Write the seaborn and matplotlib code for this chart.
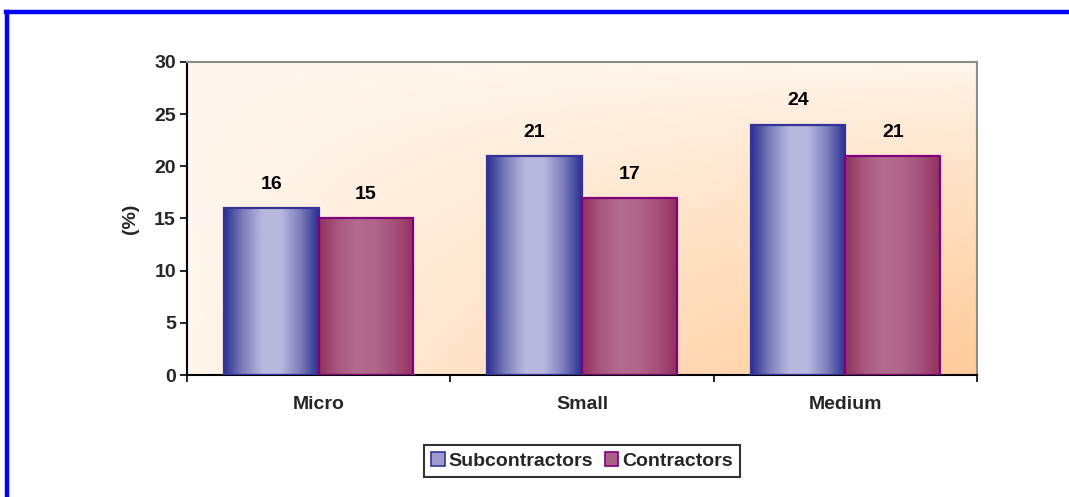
import numpy as np
import pandas as pd
import matplotlib
matplotlib.use("Agg")
import matplotlib.pyplot as plt
from matplotlib.colors import LinearSegmentedColormap, to_rgb
from matplotlib.patches import Rectangle
from matplotlib.lines import Line2D
import seaborn as sns

categories = ["Micro", "Small", "Medium"]
series = ["Subcontractors", "Contractors"]
subcontractors = [16, 21, 24]
contractors = [15, 17, 21]
y_ticks = [0, 5, 10, 15, 20, 25, 30]
y_label = "(%)"

sns.set_theme(style="white")
plt.rcParams['font.family'] = ['Liberation Sans', 'DejaVu Sans']
plt.rcParams['font.weight'] = 'bold'

FS = 14

df = pd.DataFrame({
    "category": categories * 2,
    "series": [series[0]] * 3 + [series[1]] * 3,
    "value": subcontractors + contractors,
})

W, H = 1069, 497
fig = plt.figure(figsize=(W / 100, H / 100), dpi=100)
fig.patch.set_facecolor("white")
ax = fig.add_axes([187 / W, (H - 375) / H, 790 / W, 313 / H])

palette = {series[0]: "#9999CC", series[1]: "#A8527E"}
sns.barplot(data=df, x="category", y="value", hue="series", order=categories,
            hue_order=series, palette=palette, width=0.72, ax=ax, legend=False,
            saturation=1, zorder=2)

# background gradient (light top-left -> peach bottom-right)
nx, ny = 300, 200
xn = np.linspace(0, 1, nx)[None, :]
yn = np.linspace(0, 1, ny)[:, None]
t = np.clip((xn * yn) ** 0.75, 0, 1)
c0 = np.array(to_rgb("#FFF7EF"))
c1 = np.array(to_rgb("#FFCB98"))
bg = c0[None, None, :] * (1 - t[..., None]) + c1[None, None, :] * t[..., None]
ax.imshow(bg, extent=(-0.5, 2.5, 0, 30), aspect="auto", zorder=0, origin="upper")

# bar gradients
grad_specs = {
    0: (["#2E3192", "#7E80BC", "#B8B8DE", "#B8B8DE", "#7E80BC", "#2E3192"], "#333399"),
    1: (["#93325F", "#A9587F", "#B46B90", "#B06589", "#A5507A", "#93325F"], "#800080"),
}
patches = [p for p in ax.patches if isinstance(p, Rectangle) and p.get_height() > 0]
patches = sorted(patches, key=lambda p: p.get_x())
for i, p in enumerate(patches):
    hue_idx = i % 2
    cols, ec = grad_specs[hue_idx]
    cmap = LinearSegmentedColormap.from_list("g", cols)
    g = cmap(np.linspace(0, 1, 100))[None, :, :]
    x0, w, h = p.get_x(), p.get_width(), p.get_height()
    im = ax.imshow(g, extent=(x0, x0 + w, 0, h), aspect="auto", zorder=2.5)
    im.set_clip_path(p)
    p.set_edgecolor(ec)
    p.set_linewidth(1.6)
    p.set_zorder(3)
    p.set_facecolor("none")
    ax.annotate(f"{int(round(h))}", (x0 + w / 2, h), xytext=(0, 17),
                textcoords="offset points", ha="center", va="center",
                fontsize=FS, fontweight="bold", color="black")

ax.set_xlim(-0.5, 2.5)
ax.set_ylim(0, 30)
ax.set_yticks(y_ticks)
ax.set_yticklabels([str(v) for v in y_ticks], fontsize=FS, fontweight="bold")
ax.set_xticks([-0.5, 0.5, 1.5, 2.5])
ax.set_xticklabels([])
ax.set_xticks([0, 1, 2], minor=True)
ax.set_xticklabels(categories, minor=True, fontsize=FS, fontweight="bold")
ax.tick_params(axis="x", which="major", direction="out", length=5, width=1.2,
               color="black", bottom=True)
ax.tick_params(axis="x", which="minor", length=0, pad=15)
ax.tick_params(axis="y", direction="out", length=5, width=1.2, color="black",
               left=True, pad=3)
ax.set_xlabel("")
ax.set_ylabel(y_label, fontsize=FS, fontweight="bold", labelpad=11)

for s in ["left", "bottom"]:
    ax.spines[s].set_color("black")
    ax.spines[s].set_linewidth(1.5)
for s in ["top", "right"]:
    ax.spines[s].set_color("#8C8C8C")
    ax.spines[s].set_linewidth(1.5)
ax.grid(False)

handles = [Rectangle((0, 0), 1, 1, facecolor="#9C9CD0", edgecolor="#333399", lw=1.2),
           Rectangle((0, 0), 1, 1, facecolor="#AD5F86", edgecolor="#800080", lw=1.2)]
leg = fig.legend(handles, series, loc="center", bbox_to_anchor=(582 / W, 1 - 461 / H),
                 ncol=2, frameon=True, fancybox=False, edgecolor="black",
                 handlelength=0.7, handleheight=0.7, handletextpad=0.2,
                 columnspacing=0.6, borderpad=0.35, borderaxespad=0,
                 prop={"weight": "bold", "size": FS})
leg.get_frame().set_linewidth(1.5)

# blue border lines (top and left)
fig.add_artist(Line2D([6 / W, 1], [1 - 12 / H, 1 - 12 / H], color="#0000FF", lw=3.2,
                      transform=fig.transFigure, solid_capstyle="projecting"))
fig.add_artist(Line2D([6.5 / W, 6.5 / W], [0, 1 - 12 / H], color="#0000FF", lw=3.2,
                      transform=fig.transFigure, solid_capstyle="projecting"))

fig.savefig("out.png", dpi=100)
